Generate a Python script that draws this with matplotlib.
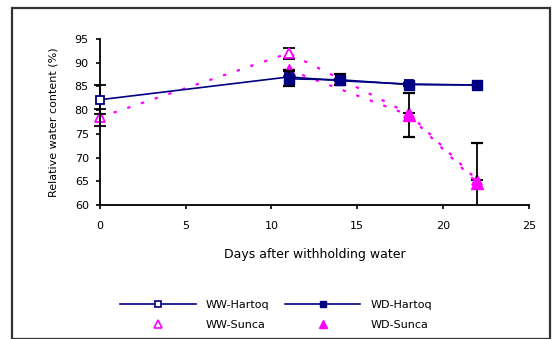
"""
Relative water content of Hartoq and Sunca under well-watered (WW)
and water-deficit (WD) treatments.
"""

import matplotlib.pyplot as plt
from matplotlib.lines import Line2D
from matplotlib.patches import Rectangle

# data
ww_hartoq_days = [0, 11, 14, 18, 22]
ww_hartoq_rwc = [82.2, 87.0, 86.2, 85.5, 85.3]
ww_hartoq_err = [3.0, 0.0, 0.0, 0.0, 0.0]

wd_hartoq_days = [11, 14, 18, 22]
wd_hartoq_rwc = [86.6, 86.4, 85.4, 85.3]
wd_hartoq_err = [1.6, 1.2, 0.3, 0.0]

ww_sunca_days = [0, 11, 14, 18, 22]
ww_sunca_rwc = [78.5, 92.0, 86.6, 79.3, 65.2]
ww_sunca_err = [1.8, 1.2, 0.0, 0.0, 0.0]

wd_sunca_days = [11, 18, 22]
wd_sunca_rwc = [88.5, 79.0, 64.6]
wd_sunca_err = [0.0, 4.7, 8.5]

navy = '#000080'
mag = '#FF00FF'
fs = 8

fig = plt.figure(figsize=(5.52, 3.39), dpi=100)
ax = fig.add_axes([0.181, 0.395, 0.777, 0.49])

# outer chart frame
fig.patches.append(Rectangle((12/552, 0.0), 538/552, 1 - 8/339,
                             transform=fig.transFigure, fill=False,
                             edgecolor='#333333', linewidth=1.6))

ekw = dict(ecolor='black', elinewidth=1.3, capsize=4, capthick=1.6)
dots = (0, (1.5, 5))

series = [
    (ww_sunca_days, ww_sunca_rwc, ww_sunca_err,
     dict(color=mag, linestyle=dots, linewidth=1.6, marker='^', markersize=7,
          markerfacecolor='white', markeredgecolor=mag, markeredgewidth=1.3)),
    (wd_sunca_days, wd_sunca_rwc, wd_sunca_err,
     dict(color=mag, linestyle=dots, linewidth=1.6, marker='^', markersize=8,
          markerfacecolor=mag, markeredgecolor=mag)),
    (ww_hartoq_days, ww_hartoq_rwc, ww_hartoq_err,
     dict(color=navy, linewidth=1.2, marker='s', markersize=6,
          markerfacecolor='white', markeredgecolor=navy, markeredgewidth=1.3)),
    (wd_hartoq_days, wd_hartoq_rwc, wd_hartoq_err,
     dict(color=navy, linewidth=1.2, marker='s', markersize=7,
          markerfacecolor=navy, markeredgecolor=navy)),
]

ax.set_xlim(0, 25)
ax.set_ylim(60, 95)

# clip only at the bottom, so markers on the y axis stay whole
clip = Rectangle((-2, 60), 30, 40, transform=ax.transData)
for z, (x, y, e, kw) in enumerate(series):
    cont = ax.errorbar(x, y, yerr=e, zorder=2 + z, **ekw, **kw)
    for art in cont.get_children():
        art.set_clip_path(clip)

ax.set_xticks(range(0, 26, 5))
ax.set_yticks(range(60, 96, 5))
ax.spines['top'].set_visible(False)
ax.spines['right'].set_visible(False)
ax.spines['left'].set_linewidth(1.3)
ax.spines['bottom'].set_linewidth(1.3)
ax.tick_params(direction='out', length=3, width=1.2, labelsize=fs, pad=5)
for lab in ax.get_xticklabels():
    lab.set_y(-0.03)

ax.set_xlabel('Days after withholding water', fontsize=fs + 1, labelpad=12)
ax.set_ylabel('Relative water content (%)', fontsize=fs, labelpad=12)

handles = [
    Line2D([], [], color=navy, lw=1.2, marker='s', ms=5,
           mfc='white', mec=navy, mew=1.2),
    Line2D([], [], color=mag, lw=0, marker='^', ms=6,
           mfc='white', mec=mag, mew=1.2),
    Line2D([], [], color=navy, lw=1.2, marker='s', ms=5, mfc=navy, mec=navy),
    Line2D([], [], color=mag, lw=0, marker='^', ms=6, mfc=mag, mec=mag),
]
labels = ['WW-Hartoq', 'WW-Sunca', 'WD-Hartoq', 'WD-Sunca']
fig.legend(handles, labels, ncol=2, frameon=False, fontsize=fs,
           loc='center', bbox_to_anchor=(0.5, 0.07), handlelength=6.8,
           handletextpad=0.9, columnspacing=1.4, labelspacing=0.9)

plt.savefig('out.png', dpi=100)
